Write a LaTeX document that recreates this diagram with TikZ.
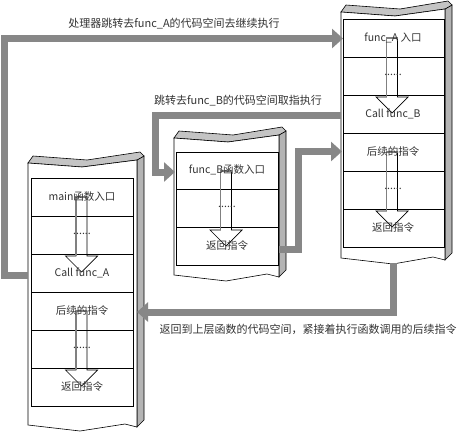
\documentclass[tikz,border=0pt]{standalone}
\usepackage{fontspec}
\setmainfont{Noto Sans CJK SC}
\usetikzlibrary{arrows.meta}
\definecolor{connGray}{HTML}{878787}
\definecolor{sideGray}{HTML}{B4B4B4}
\definecolor{topGray}{HTML}{C4C4C4}
\definecolor{txt}{HTML}{333333}
\tikzset{
  gconn/.style={draw=connGray, line width=7pt, line join=miter,
    -{Triangle[length=11pt,width=19pt]}},
  face/.style={draw=black, line width=0.6pt},
  cell/.style={draw=black, line width=0.6pt},
  celltext/.style={text=txt, font=\fontsize{10.5pt}{12pt}\selectfont, inner sep=0pt},
  lbl/.style={text=txt, font=\fontsize{11pt}{13pt}\selectfont, inner sep=0pt},
}
% #1=L #2=R #3=T #4=Bt
\newcommand{\drawstack}[4]{%
  \filldraw[face, fill=sideGray] (#2,{#3-3}) -- ({#2+7},{#3-7}) -- ({#2+7},{#4-5}) -- (#2,{#4+2}) -- cycle;
  \filldraw[face, fill=topGray] (#1,#3) -- ({#1+5},{#3-7}) -- ({#1+59},{#3-3}) -- ({#2+3},{#3-11}) -- ({#2+7},{#3-7}) -- (#2,{#3-3}) -- ({#1+54},{#3+4}) -- cycle;
  \filldraw[face, fill=white] (#1,#3) -- ({#1+54},{#3+4}) -- (#2,{#3-3}) -- (#2,{#4+2}) -- ({#2-12},{#4-1}) -- ({#1+52},{#4+6}) -- (#1,#4) -- cycle;
}
% #1=cx #2=yt
\newcommand{\hollowarrow}[2]{%
  \draw[black, line width=0.7pt] ({#1-5.5},{#2+19}) -- ({#1+5.5},{#2+19}) -- ({#1+5.5},{#2+78}) -- ({#1+16},{#2+78}) -- (#1,{#2+94}) -- ({#1-16},{#2+78}) -- ({#1-5.5},{#2+78}) -- cycle;
  \draw[gray, line width=1.3pt] ({#1-5.5},{#2+78}) -- ({#1-5.5},{#2+19}) -- ({#1+5.5},{#2+19});
}
\begin{document}
\begin{tikzpicture}[x=1pt,y=-1pt]
\useasboundingbox (0,0) rectangle (462,433);
\fill[white] (0,0) rectangle (462,433);

% ---------- stacks ----------
\drawstack{28}{137}{163}{425}
\drawstack{174}{279}{138}{275}
\drawstack{341}{445}{12}{258}

% main cells
\draw[cell] (31,178) rectangle (133,406);
\foreach \y in {216,254,292,330,368} \draw[cell] (31,\y) -- (133,\y);
% func_B cells
\draw[cell] (176,152) rectangle (278,265);
\foreach \y in {189,227} \draw[cell] (176,\y) -- (278,\y);
% func_A cells
\draw[cell] (343,19) rectangle (444,247);
\foreach \y in {57,95,133,171,209} \draw[cell] (343,\y) -- (444,\y);

% hollow arrows
\hollowarrow{81.5}{178}
\hollowarrow{81.5}{292}
\hollowarrow{226}{152}
\hollowarrow{392}{19}
\hollowarrow{392}{133}

% cell texts
\node[celltext] (m1) at (82,197) {main函数入口};
\node[celltext] (m2) at (82,234) {......};
\node[celltext] (m3) at (82,273) {Call func\_A};
\node[celltext] (m4) at (82,311) {后续的指令};
\node[celltext] (m5) at (82,348) {......};
\node[celltext] (m6) at (82,387) {返回指令};

\node[celltext] (b1) at (227,170) {func\_B函数入口};
\node[celltext] (b2) at (227,207) {......};
\node[celltext] (b3) at (227,246) {返回指令};

\node[celltext] (a1) at (393,38) {func\_A 入口};
\node[celltext] (a2) at (393,75) {......};
\node[celltext] (a3) at (393,114) {Call func\_B};
\node[celltext] (a4) at (393,152) {后续的指令};
\node[celltext] (a5) at (393,189) {......};
\node[celltext] (a6) at (393,228) {返回指令};

% connector end points
\coordinate (mCall) at (28,275);
\coordinate (aEntry) at (343,38.5);
\coordinate (aCall) at (341,115);
\coordinate (bEntry) at (175,172);
\coordinate (bRet) at (279,249.5);
\coordinate (aNext) at (342,151.5);
\coordinate (aBottom) at (393.5,263);
\coordinate (mNext) at (137,312);

% gray connectors
\draw[gconn] (mCall) -- (4.5,275) -- (4.5,38.5) -- (aEntry);
\draw[gconn] (aCall) -- (155.5,115) -- (155.5,172) -- (bEntry);
\draw[gconn] (bRet) -- (298.5,249.5) -- (298.5,151.5) -- (aNext);
\draw[gconn] (aBottom) -- (393.5,312) -- (mNext);

% labels
\node[lbl] (l1) at (174,24) {处理器跳转去func\_A的代码空间去继续执行};
\node[lbl] (l2) at (238,101) {跳转去func\_B的代码空间取指执行};
\node[lbl] (l3) at (308,329) {返回到上层函数的代码空间，紧接着执行函数调用的后续指令};
\end{tikzpicture}
\end{document}
